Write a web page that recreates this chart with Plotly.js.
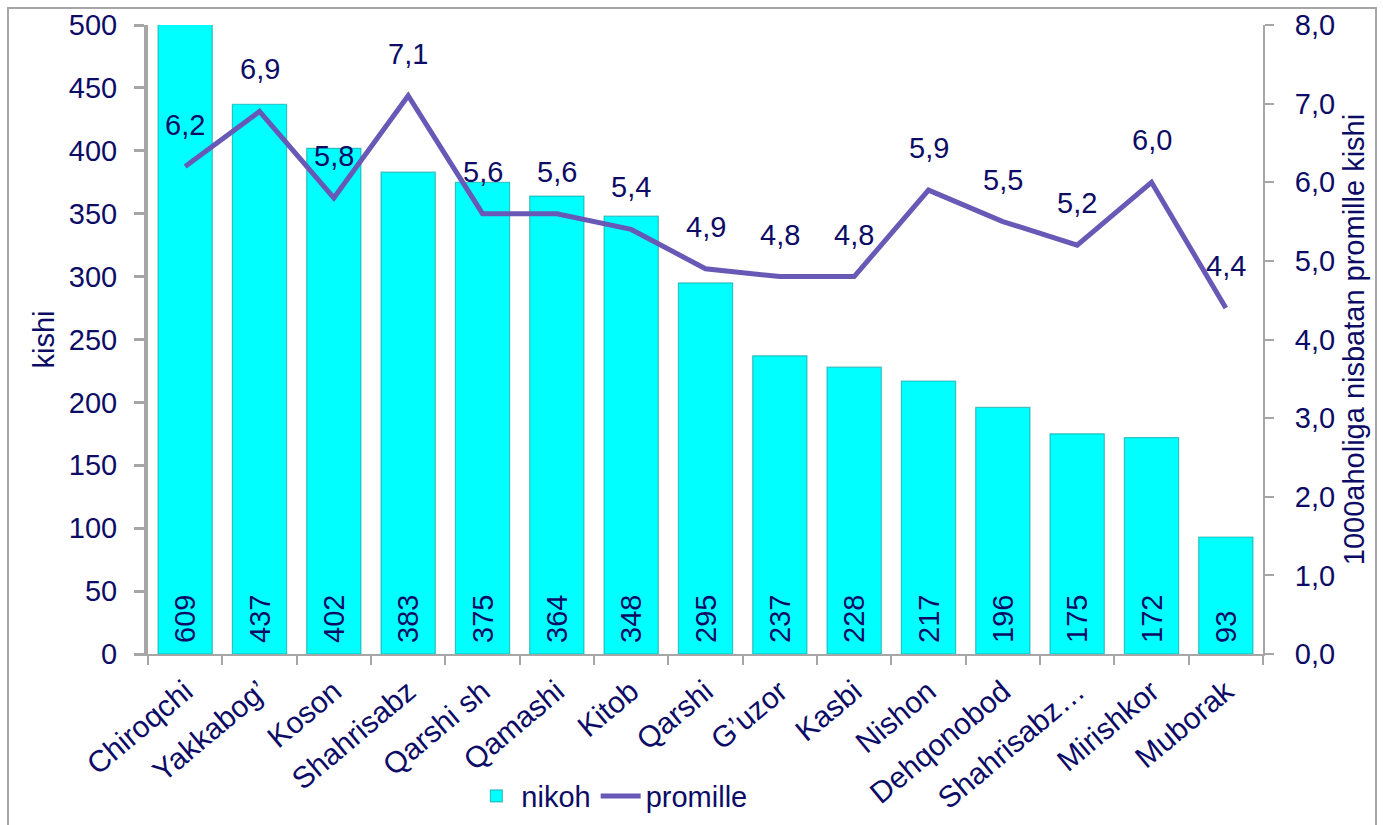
<!DOCTYPE html>
<html><head><meta charset="utf-8">
<script src="https://cdn.plot.ly/plotly-3.0.1.min.js"></script>
<style>
html,body{margin:0;padding:0;background:#fff;overflow:hidden}
#frame{position:absolute;left:7px;top:7px;width:1366px;height:830px;border:2px solid #a6a6a6;pointer-events:none}
</style>
</head><body>
<div id="chart" style="position:absolute;left:0;top:0;width:1383px;height:825px"></div>
<div id="frame"></div>
<script>
const categories = ["Chiroqchi","Yakkabog’","Koson","Shahrisabz","Qarshi sh","Qamashi","Kitob","Qarshi","G’uzor","Kasbi","Nishon","Dehqonobod","Shahrisabz…","Mirishkor","Muborak"];
const nikoh = [609,437,402,383,375,364,348,295,237,228,217,196,175,172,93];
const promille = [6.2,6.9,5.8,7.1,5.6,5.6,5.4,4.9,4.8,4.8,5.9,5.5,5.2,6.0,4.4];
const leftTicks = [0,50,100,150,200,250,300,350,400,450,500];
const rightTicks = [0,1,2,3,4,5,6,7,8];

const NAVY = '#0c0c66';
const FONT = 'Liberation Sans, Arial, sans-serif';
const FS = 29;

const bars = {
  type:'bar', name:'nikoh', x:categories, y:nikoh, text:nikoh.map(String),
  texttemplate:'\u00a0%{text}', textposition:'inside', insidetextanchor:'start', textangle:-90,
  textfont:{family:FONT,size:FS,color:NAVY}, constraintext:'none',
  marker:{color:'#00ffff', line:{color:'rgba(0,140,140,0.55)', width:1.2}},
  cliponaxis:true, hoverinfo:'x+y'
};
const line = {
  type:'scatter', mode:'lines', name:'promille', x:categories, y:promille, yaxis:'y2',
  line:{color:'#6759b5', width:5}, hoverinfo:'x+y'
};

const annotations = promille.map((v,i)=>({
  x:categories[i], y:v, xref:'x', yref:'y2', text:v.toFixed(1).replace('.',','),
  showarrow:false, yshift:42, font:{family:FONT,size:FS,color:NAVY}
}));

const axisGrey = '#a6a6a6';
const layout = {
  width:1383, height:825,
  margin:{l:148, r:120, t:25, b:171, pad:0},
  paper_bgcolor:'#fff', plot_bgcolor:'#fff',
  separators:', ',
  bargap:0.27,
  font:{family:FONT, size:FS, color:NAVY},
  showlegend:true,
  legend:{orientation:'h', x:0.29, xanchor:'left', yref:'container', y:0.066, yanchor:'top',
    font:{family:FONT,size:FS,color:NAVY}, bgcolor:'rgba(0,0,0,0)', traceorder:'normal', itemwidth:40},
  xaxis:{
    type:'category', tickangle:-40, tickson:'boundaries', ticks:'outside', ticklen:9, tickwidth:2, tickcolor:axisGrey,
    showline:true, linecolor:axisGrey, linewidth:2, showgrid:false, zeroline:false, automargin:false,
    ticklabelstandoff:6,
    tickfont:{family:FONT,size:30,color:NAVY}
  },
  yaxis:{
    range:[0,500], tickvals:leftTicks, ticks:'outside', ticklen:10, tickwidth:3, tickcolor:axisGrey,
    showline:true, linecolor:axisGrey, linewidth:4, showgrid:false, zeroline:false, automargin:false,
    ticklabelstandoff:11,
    tickfont:{family:FONT,size:FS,color:NAVY},
    title:{text:'kishi', font:{family:FONT,size:FS,color:NAVY}, standoff:7}
  },
  yaxis2:{
    overlaying:'y', side:'right', range:[0,8], tickvals:rightTicks, tickformat:'.1f',
    ticks:'outside', ticklen:9, tickwidth:2, tickcolor:axisGrey,
    showline:true, linecolor:axisGrey, linewidth:2, showgrid:false, zeroline:false, automargin:false,
    ticklabelstandoff:15,
    tickfont:{family:FONT,size:FS,color:NAVY},
    title:{text:'1000aholiga nisbatan promille kishi', font:{family:FONT,size:FS,color:NAVY}, standoff:10}
  },
  annotations:annotations
};

Plotly.newPlot('chart',[bars,line],layout,{displayModeBar:false, staticPlot:true});
</script>
</body></html>
